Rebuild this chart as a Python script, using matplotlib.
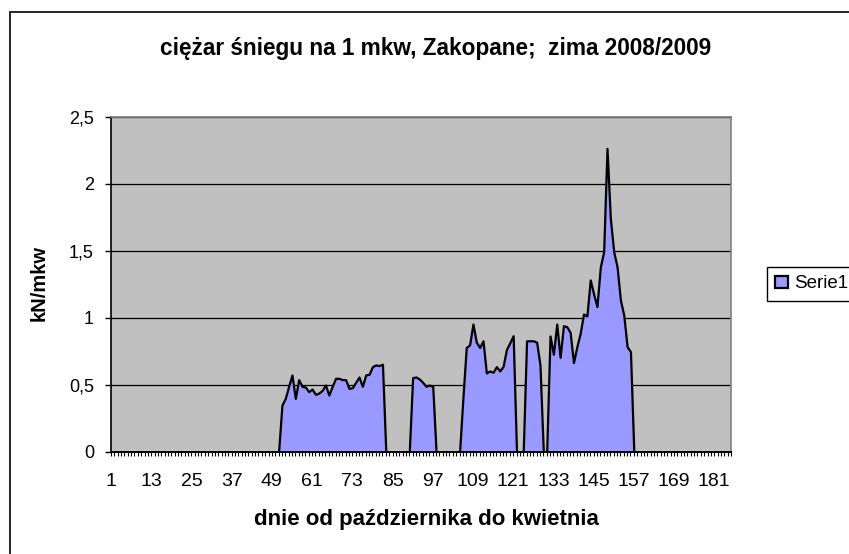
import numpy as np
import matplotlib
matplotlib.use("Agg")
import matplotlib.pyplot as plt
from matplotlib.patches import Rectangle
from matplotlib.ticker import MultipleLocator, FuncFormatter

plt.rcParams['font.family'] = ['Liberation Sans', 'DejaVu Sans']

# day index from 1 October (category axis)
days = list(range(1, 187))

# snow load in kN per square metre
snow_load = [
    0, 0, 0, 0, 0, 0, 0, 0, 0, 0,                        # 1-10
    0, 0, 0, 0, 0, 0, 0, 0, 0, 0,                        # 11-20
    0, 0, 0, 0, 0, 0, 0, 0, 0, 0,                        # 21-30
    0, 0, 0, 0, 0, 0, 0, 0, 0, 0,                        # 31-40
    0, 0, 0, 0, 0, 0, 0, 0, 0, 0,                        # 41-50
    0, 0.35, 0.40, 0.49, 0.575, 0.40, 0.54, 0.49, 0.485, 0.45,         # 51-60
    0.47, 0.43, 0.44, 0.46, 0.50, 0.425, 0.49, 0.55, 0.55, 0.54,       # 61-70
    0.54, 0.475, 0.48, 0.52, 0.56, 0.49, 0.575, 0.58, 0.637, 0.65,     # 71-80
    0.645, 0.655, 0, 0, 0, 0, 0, 0, 0, 0,                              # 81-90
    0.555, 0.56, 0.545, 0.52, 0.49, 0.50, 0.49, 0, 0, 0,               # 91-100
    0, 0, 0, 0, 0, 0.40, 0.78, 0.80, 0.955, 0.82,                      # 101-110
    0.78, 0.83, 0.59, 0.605, 0.595, 0.637, 0.605, 0.64, 0.766, 0.816,  # 111-120
    0.868, 0, 0, 0, 0.83, 0.83, 0.83, 0.82, 0.65, 0,                   # 121-130
    0, 0.866, 0.73, 0.955, 0.706, 0.943, 0.935, 0.893, 0.667, 0.786,   # 131-140
    0.886, 1.03, 1.015, 1.284, 1.18, 1.085, 1.38, 1.495, 2.266, 1.744, # 141-150
    1.495, 1.383, 1.134, 1.022, 0.786, 0.749, 0, 0, 0, 0,              # 151-160
    0, 0, 0, 0, 0, 0, 0, 0, 0, 0,                        # 161-170
    0, 0, 0, 0, 0, 0, 0, 0, 0, 0,                        # 171-180
    0, 0, 0, 0, 0, 0,                                    # 181-186
]

y_ticks = [0, 0.5, 1, 1.5, 2, 2.5]
x_label_days = list(range(1, 182, 12))

title = "ciężar śniegu na 1 mkw, Zakopane;  zima 2008/2009"
x_title = "dnie od października do kwietnia"
y_title = "kN/mkw"
series_name = "Serie1"

W, H = 849, 554
fig = plt.figure(figsize=(W / 100, H / 100), dpi=100)
fig.patch.set_facecolor('white')

# outer chart frame (right and bottom edges fall outside the picture)
fig.patches.append(Rectangle((10 / W, -0.05), 1.2, 1 - 12 / H + 0.05,
                             transform=fig.transFigure, fill=False,
                             edgecolor='black', linewidth=1.2))

# plot area in pixels: x 111..731, y 117..452
ax = fig.add_axes([111 / W, 1 - 452 / H, 620 / W, 335 / H])
ax.set_facecolor('#C0C0C0')

ax.fill_between(days, snow_load, 0, facecolor='#9999FF', edgecolor='black',
                linewidth=1.6, zorder=3, label=series_name)

ax.set_xlim(1, 186)
ax.set_ylim(0, 2.5)

ax.set_axisbelow(True)
ax.yaxis.grid(True, color='black', linewidth=0.9)

ax.set_yticks(y_ticks)
ax.yaxis.set_major_formatter(FuncFormatter(lambda v, p: f"{v:g}".replace('.', ',')))
ax.set_xticks(x_label_days)
ax.xaxis.set_minor_locator(MultipleLocator(1))

ax.tick_params(axis='y', direction='out', length=4.3, width=1, pad=8,
               labelsize=13, colors='black')
ax.tick_params(axis='x', which='both', direction='out', length=2.9, width=0.8,
               pad=12, labelsize=14, colors='black')

for side in ['top', 'right']:
    ax.spines[side].set_color('#808080')
    ax.spines[side].set_linewidth(1.2)
for side in ['left', 'bottom']:
    ax.spines[side].set_color('black')
    ax.spines[side].set_linewidth(1.2)
ax.spines['bottom'].set_zorder(4)

fig.text(436 / W, 1 - 48 / H, title, ha='center', va='center',
         fontsize=16.3, fontweight='bold')
ax.set_xlabel(x_title, fontsize=16, fontweight='bold')
ax.xaxis.set_label_coords((426 - 111) / 620, (452 - 520) / 335)
ax.xaxis.label.set_va('center')
ax.set_ylabel(y_title, fontsize=14.5, fontweight='bold')
ax.yaxis.set_label_coords((39 - 111) / 620, (452 - 283) / 335)
ax.yaxis.label.set_va('center')

fig.legend(loc='upper left', bbox_to_anchor=(767 / W, 1 - 267 / H),
           frameon=True, fancybox=False, edgecolor='black', fontsize=13.5,
           handlelength=0.65, handleheight=0.65, handletextpad=0.32,
           borderpad=0.45, borderaxespad=0, framealpha=1)

fig.savefig('out.png', dpi=100)
